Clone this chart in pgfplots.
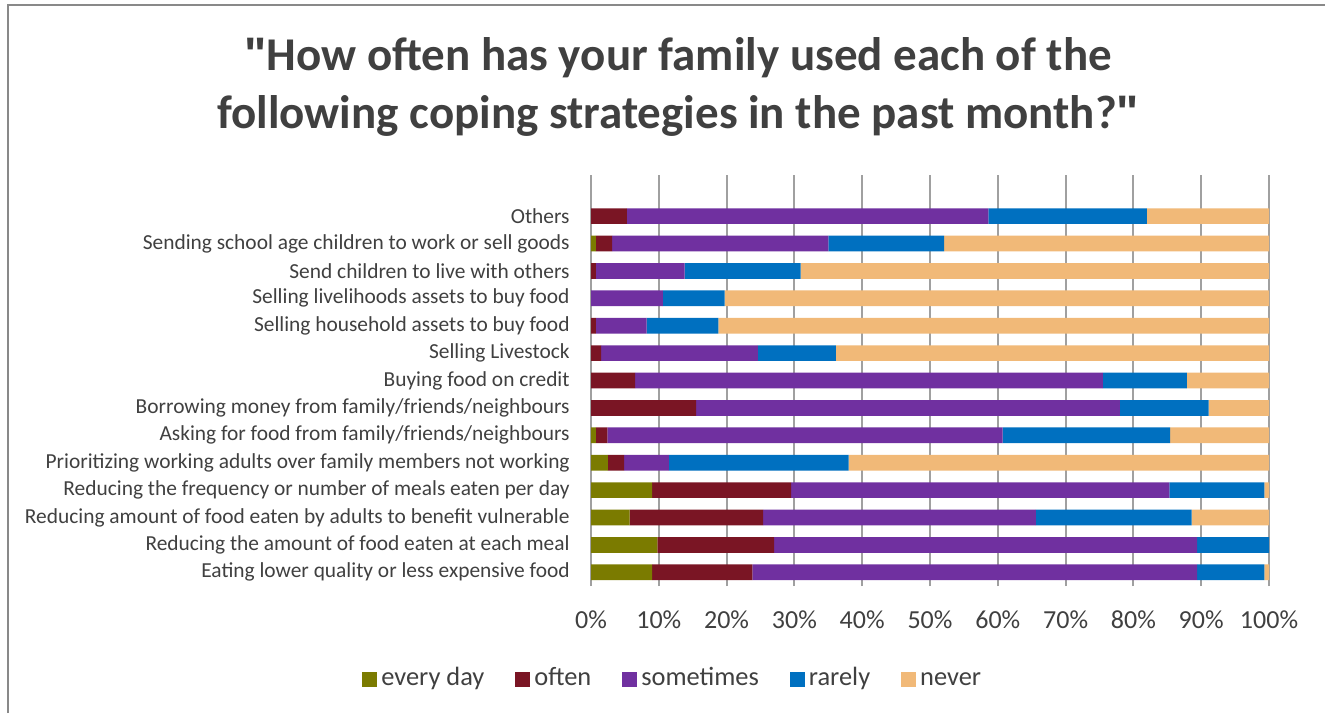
\documentclass[border=0pt]{standalone}
\usepackage{pgfplots}
\pgfplotsset{compat=1.18}
\usepackage{pgfplotstable}
\usepackage{fontspec}
\setmainfont{Carlito}
\newfontfamily\quotefont{Liberation Sans}

\definecolor{cEvery}{RGB}{123,123,0}
\definecolor{cOften}{RGB}{122,21,36}
\definecolor{cSome}{RGB}{112,48,160}
\definecolor{cRare}{RGB}{0,112,192}
\definecolor{cNever}{RGB}{241,185,120}
\definecolor{txt}{RGB}{64,64,64}
\definecolor{gridc}{RGB}{160,160,160}

% y: 0 = bottom row (Eating lower quality ...), 13 = Others
\pgfplotstableread{
y everyday often sometimes rarely never
0  9.0 14.8 65.6  9.9  0.7
1  9.8 17.2 62.4 10.6  0.0
2  5.7 19.7 40.2 23.0 11.4
3  9.0 20.5 55.8 14.0  0.7
4  2.5  2.4  6.6 26.5 62.0
5  0.7  1.7 58.3 24.7 14.6
6  0.0 15.5 62.5 13.1  8.9
7  0.0  6.5 69.0 12.4 12.1
8  0.0  1.5 23.1 11.5 63.9
9  0.0  0.7  7.5 10.6 81.2
10 0.0  0.0 10.6  9.1 80.3
11 0.0  0.7 13.1 17.1 69.1
12 0.7  2.4 31.9 17.1 47.9
13 0.0  5.3 53.3 23.4 18.0
}\coping

\newcommand{\dq}{{\quotefont\bfseries\symbol{34}}}

\begin{document}
\begin{tikzpicture}
\path[use as bounding box, fill=white] (0,0) rectangle (662.5pt,356.5pt);
% chart frame
\draw[color={rgb,255:red,137;green,137;blue,137}, line width=0.8pt]
  (4pt,0) -- (4pt,354pt) -- (662.5pt,354pt);
% title
\node[text=txt, font=\fontsize{23.5}{29}\selectfont\bfseries, align=center]
  at (339pt,313pt) {\dq How often has your family used each of the\\following coping strategies in the past month?\dq};

\begin{axis}[
  at={(295.5pt,63.5pt)}, anchor=south west,
  scale only axis, width=339pt, height=205.5pt,
  xbar stacked, bar width=7.85pt,
  xmin=0, xmax=100, ymin=-0.5, ymax=14.5,
  xtick={0,10,...,100},
  xticklabel={\pgfmathprintnumber{\tick}\%},
  /pgf/number format/assume math mode=true,
  ytick={0,...,13},
  yticklabels={
    Eating lower quality or less expensive food,
    Reducing the amount of food eaten at each meal,
    Reducing amount of food eaten by adults to benefit vulnerable,
    Reducing the frequency or number of meals eaten per day,
    Prioritizing working adults over family members not working,
    Asking for food from family/friends/neighbours,
    Borrowing money from family/friends/neighbours,
    Buying food on credit,
    Selling Livestock,
    Selling household assets to buy food,
    Selling livelihoods assets to buy food,
    Send children to live with others,
    Sending school age children to work or sell goods,
    Others\hspace{2.2pt}},
  major tick length=0pt,
  axis line style={draw=none},
  xmajorgrids, major grid style={draw=gridc, line width=1pt},
  yticklabel style={font=\fontsize{10.7}{12}\selectfont, text=txt, anchor=east, inner sep=0pt, xshift=-10.5pt},
  xticklabel style={font=\fontsize{13}{15}\selectfont, text=txt, anchor=center, inner sep=0pt, yshift=-17pt},
  legend columns=5,
  legend style={at={(0.122,-0.227)}, anchor=center, draw=none, fill=none,
    font=\fontsize{13.2}{15}\selectfont, text=txt,
    nodes={text height=1.7ex, text depth=0.4ex},
    /tikz/every even column/.append style={column sep=13.5pt}},
  legend image code/.code={\fill[#1] (0pt,-3.75pt) rectangle (7.5pt,3.75pt);},
]
\addplot[fill=cEvery, draw=none] table[x=everyday, y=y] {\coping};
\addplot[fill=cOften, draw=none] table[x=often, y=y] {\coping};
\addplot[fill=cSome, draw=none] table[x=sometimes, y=y] {\coping};
\addplot[fill=cRare, draw=none] table[x=rarely, y=y] {\coping};
\addplot[fill=cNever, draw=none] table[x=never, y=y] {\coping};
\legend{every day, often, sometimes, rarely, never}
\end{axis}
\end{tikzpicture}
\end{document}
